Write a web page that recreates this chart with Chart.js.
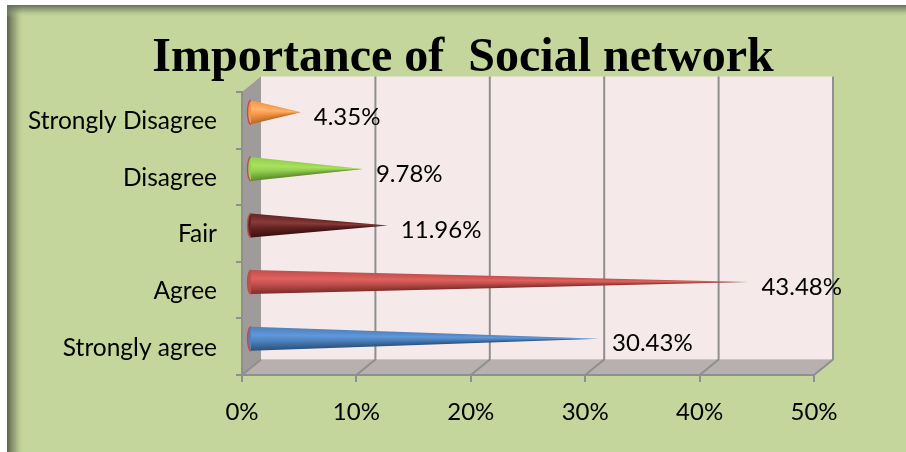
<!DOCTYPE html>
<html><head><meta charset="utf-8">
<style>html,body{margin:0;padding:0;background:#fff}canvas{display:block}</style>
<script src="https://cdn.jsdelivr.net/npm/chart.js@4"></script></head>
<body><div style="width:906px;height:452px;position:relative"><canvas id="c" width="906" height="452"></canvas></div>
<script>
const categories = ["Strongly Disagree","Disagree","Fair","Agree","Strongly agree"];
const percentValues = [4.35,9.78,11.96,43.48,30.43];
const valueLabels = ["4.35%","9.78%","11.96%","43.48%","30.43%"];
const coneColors = ["#f79646","#92d050","#632523","#c0504d","#4f81bd"];
const coneLight = ["#fdb56f","#a9e25c","#8a3b38","#e2605d","#5f98dc"];
const coneDark = ["#b96a26","#5f8c2c","#3c1110","#7f2c2a","#2a527f"];
const xTicks = [0,10,20,30,40,50];
const titleText = "Importance of  Social network";

const DX = 19, DY = -15.5;    // depth of the 3D box
const CX = 8, CY = -8;        // cone offset inside the box
const FONT = "Lato, sans-serif";
const FS = 24;

const scene = {
  id:"scene",
  beforeDraw(chart){
    const {ctx,width,height} = chart;
    ctx.save();
    ctx.fillStyle="#ffffff";ctx.fillRect(0,0,width,height);
    ctx.fillStyle="#c4d69b";ctx.fillRect(7,5,width-7,height-5);
    let g=ctx.createLinearGradient(7,0,24,0);
    g.addColorStop(0,"rgba(85,90,70,0.95)");g.addColorStop(0.5,"rgba(120,130,95,0.5)");g.addColorStop(1,"rgba(196,214,155,0)");
    ctx.fillStyle=g;ctx.fillRect(7,5,17,height-5);
    g=ctx.createLinearGradient(0,5,0,17);
    g.addColorStop(0,"rgba(100,105,85,0.95)");g.addColorStop(0.5,"rgba(130,140,105,0.5)");g.addColorStop(1,"rgba(196,214,155,0)");
    ctx.fillStyle=g;ctx.fillRect(7,5,width-7,12);

    const x=chart.scales.x,a=chart.chartArea;
    const L=a.left,R=a.right,T=a.top,B=a.bottom;
    ctx.fillStyle="#f5e9e9";ctx.fillRect(L+DX,T+DY,R-L,B-T);
    ctx.fillStyle="#9f9b9b";
    ctx.beginPath();ctx.moveTo(L,T);ctx.lineTo(L+DX,T+DY);ctx.lineTo(L+DX,B+DY);ctx.lineTo(L,B);ctx.closePath();ctx.fill();
    ctx.fillStyle="#b8afaf";
    ctx.beginPath();ctx.moveTo(L,B);ctx.lineTo(L+DX,B+DY);ctx.lineTo(R+DX,B+DY);ctx.lineTo(R,B);ctx.closePath();ctx.fill();
    ctx.strokeStyle="#8f8f8f";ctx.lineWidth=2;
    xTicks.forEach(v=>{
      const p=x.getPixelForValue(v);
      ctx.beginPath();ctx.moveTo(p,B);ctx.lineTo(p+DX,B+DY);
      if(v>0)ctx.lineTo(p+DX,T+DY);
      ctx.stroke();
    });
    ctx.restore();
  },
  beforeDatasetsDraw(chart){
    const {ctx}=chart, meta=chart.getDatasetMeta(0);
    ctx.save();
    meta.data.forEach((el,i)=>{
      const bx=el.base+CX, tx=el.x+CX+1, cy=el.y+CY, h=el.height/2, rx=3.5;
      const phi=Math.atan2(h,tx-bx), TAU=Math.PI*2;
      const g=ctx.createConicGradient(0,tx,cy);
      const lo=(Math.PI-phi)/TAU, hi=(Math.PI+phi)/TAU;   // lo = lower edge, hi = upper edge
      const at=t=>lo+(hi-lo)*t;
      g.addColorStop(at(0),coneDark[i]);
      g.addColorStop(at(0.4),coneColors[i]);
      g.addColorStop(at(0.65),coneLight[i]);
      g.addColorStop(at(1),coneColors[i]);
      ctx.fillStyle=g;
      ctx.beginPath();ctx.moveTo(tx,cy);ctx.lineTo(bx,cy-h);ctx.lineTo(bx,cy+h);ctx.closePath();ctx.fill();
      // rounded base of the cone
      ctx.fillStyle=coneColors[i];
      ctx.beginPath();ctx.ellipse(bx,cy,rx,h,0,Math.PI/2,Math.PI*1.5);ctx.fill();
      ctx.strokeStyle="#b5504c";ctx.lineWidth=1.4;
      ctx.beginPath();ctx.ellipse(bx,cy,rx,h,0,Math.PI/2,Math.PI*1.5);ctx.stroke();
      // value label
      ctx.fillStyle="#000";ctx.font=FS+"px "+FONT;ctx.textAlign="left";ctx.textBaseline="middle";
      ctx.fillText(valueLabels[i],tx+13,el.y-3);
    });
    ctx.restore();
    return false;
  }
};

new Chart(document.getElementById("c"),{
  type:"bar",
  data:{labels:categories,datasets:[{data:percentValues,backgroundColor:coneColors,barPercentage:0.424,categoryPercentage:1}]},
  plugins:[scene],
  options:{
    indexAxis:"y",responsive:false,animation:false,
    layout:{padding:{left:20,right:0,top:0,bottom:0}},
    plugins:{
      legend:{display:false},tooltip:{enabled:false},
      title:{display:true,text:titleText,color:"#000",font:{family:"'Liberation Serif',serif",size:48,weight:"bold",lineHeight:1},padding:{top:35,bottom:9}}
    },
    scales:{
      y:{afterFit(s){s.width=222;},
        grid:{drawOnChartArea:false,tickLength:6,color:"#8f8f8f",lineWidth:2},
        border:{color:"#8f8f8f",width:2},
        ticks:{color:"#000",padding:19,labelOffset:1,font:{family:FONT,size:24.5}}},
      rightGap:{type:"linear",position:"right",afterFit(s){s.width=92;},
        grid:{display:false},border:{display:false},ticks:{display:false}},
      x:{min:0,max:50,afterFit(s){s.height=77;},
        afterBuildTicks(s){s.ticks=xTicks.map(v=>({value:v}));},
        grid:{drawOnChartArea:false,tickLength:7,color:"#8f8f8f",lineWidth:2},
        border:{color:"#8f8f8f",width:2},
        ticks:{color:"#000",padding:16,maxRotation:0,font:{family:FONT,size:FS},callback:v=>v+"%"}}
    }
  }
});
</script></body></html>
